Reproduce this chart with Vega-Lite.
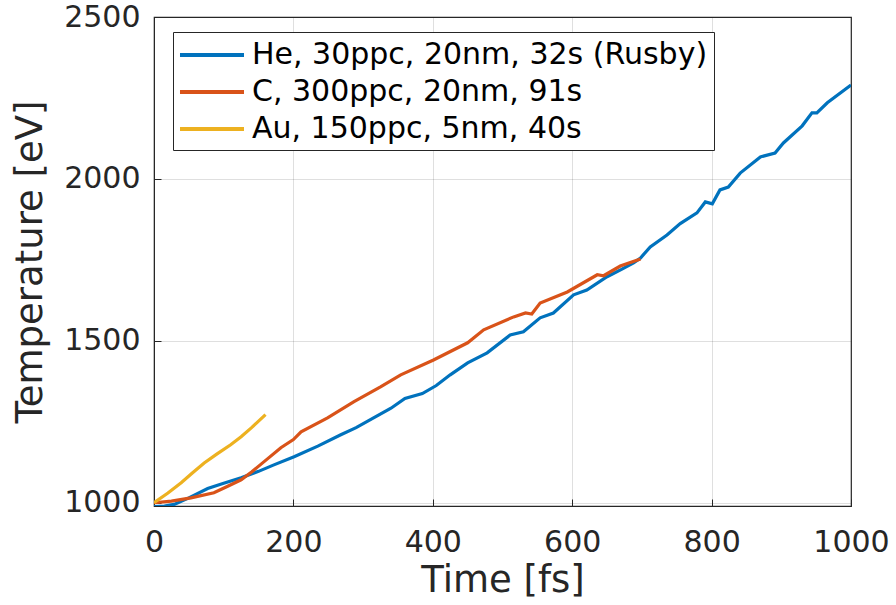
{
  "$schema": "https://vega.github.io/schema/vega-lite/v6.json",
  "width": 697,
  "height": 489,
  "padding": {"left": 154, "top": 17, "right": 45, "bottom": 99},
  "autosize": {"type": "none"},
  "background": "white",
  "config": {
    "font": "DejaVu Sans",
    "view": {"stroke": "#262626", "strokeWidth": 1.2},
    "axis": {
      "labelFont": "DejaVu Sans",
      "titleFont": "DejaVu Sans",
      "labelFontSize": 30,
      "titleFontSize": 37,
      "labelColor": "#262626",
      "titleColor": "#262626",
      "titleFontWeight": "normal",
      "domainColor": "#262626",
      "tickColor": "#262626",
      "gridColor": "#262626",
      "gridOpacity": 0.15,
      "gridWidth": 1
    }
  },
  "data": {"values": [
    {"s": "He, 30ppc, 20nm, 32s (Rusby)", "t": 0, "T": 988},
    {"s": "He, 30ppc, 20nm, 32s (Rusby)", "t": 15, "T": 990},
    {"s": "He, 30ppc, 20nm, 32s (Rusby)", "t": 29, "T": 995},
    {"s": "He, 30ppc, 20nm, 32s (Rusby)", "t": 50, "T": 1015},
    {"s": "He, 30ppc, 20nm, 32s (Rusby)", "t": 77, "T": 1044},
    {"s": "He, 30ppc, 20nm, 32s (Rusby)", "t": 100, "T": 1060},
    {"s": "He, 30ppc, 20nm, 32s (Rusby)", "t": 125, "T": 1077},
    {"s": "He, 30ppc, 20nm, 32s (Rusby)", "t": 150, "T": 1097},
    {"s": "He, 30ppc, 20nm, 32s (Rusby)", "t": 172, "T": 1117},
    {"s": "He, 30ppc, 20nm, 32s (Rusby)", "t": 201, "T": 1142},
    {"s": "He, 30ppc, 20nm, 32s (Rusby)", "t": 235, "T": 1175},
    {"s": "He, 30ppc, 20nm, 32s (Rusby)", "t": 268, "T": 1210},
    {"s": "He, 30ppc, 20nm, 32s (Rusby)", "t": 290, "T": 1232},
    {"s": "He, 30ppc, 20nm, 32s (Rusby)", "t": 315, "T": 1262},
    {"s": "He, 30ppc, 20nm, 32s (Rusby)", "t": 340, "T": 1292},
    {"s": "He, 30ppc, 20nm, 32s (Rusby)", "t": 360, "T": 1322},
    {"s": "He, 30ppc, 20nm, 32s (Rusby)", "t": 385, "T": 1337},
    {"s": "He, 30ppc, 20nm, 32s (Rusby)", "t": 405, "T": 1362},
    {"s": "He, 30ppc, 20nm, 32s (Rusby)", "t": 425, "T": 1395},
    {"s": "He, 30ppc, 20nm, 32s (Rusby)", "t": 450, "T": 1432},
    {"s": "He, 30ppc, 20nm, 32s (Rusby)", "t": 478, "T": 1463},
    {"s": "He, 30ppc, 20nm, 32s (Rusby)", "t": 511, "T": 1518},
    {"s": "He, 30ppc, 20nm, 32s (Rusby)", "t": 530, "T": 1528},
    {"s": "He, 30ppc, 20nm, 32s (Rusby)", "t": 554, "T": 1571},
    {"s": "He, 30ppc, 20nm, 32s (Rusby)", "t": 573, "T": 1586},
    {"s": "He, 30ppc, 20nm, 32s (Rusby)", "t": 602, "T": 1642},
    {"s": "He, 30ppc, 20nm, 32s (Rusby)", "t": 621, "T": 1657},
    {"s": "He, 30ppc, 20nm, 32s (Rusby)", "t": 650, "T": 1698},
    {"s": "He, 30ppc, 20nm, 32s (Rusby)", "t": 670, "T": 1720},
    {"s": "He, 30ppc, 20nm, 32s (Rusby)", "t": 688, "T": 1741},
    {"s": "He, 30ppc, 20nm, 32s (Rusby)", "t": 698, "T": 1756},
    {"s": "He, 30ppc, 20nm, 32s (Rusby)", "t": 712, "T": 1790},
    {"s": "He, 30ppc, 20nm, 32s (Rusby)", "t": 736, "T": 1827},
    {"s": "He, 30ppc, 20nm, 32s (Rusby)", "t": 755, "T": 1862},
    {"s": "He, 30ppc, 20nm, 32s (Rusby)", "t": 779, "T": 1895},
    {"s": "He, 30ppc, 20nm, 32s (Rusby)", "t": 791, "T": 1929},
    {"s": "He, 30ppc, 20nm, 32s (Rusby)", "t": 801, "T": 1923},
    {"s": "He, 30ppc, 20nm, 32s (Rusby)", "t": 812, "T": 1966},
    {"s": "He, 30ppc, 20nm, 32s (Rusby)", "t": 824, "T": 1975},
    {"s": "He, 30ppc, 20nm, 32s (Rusby)", "t": 841, "T": 2018},
    {"s": "He, 30ppc, 20nm, 32s (Rusby)", "t": 870, "T": 2068},
    {"s": "He, 30ppc, 20nm, 32s (Rusby)", "t": 891, "T": 2080},
    {"s": "He, 30ppc, 20nm, 32s (Rusby)", "t": 903, "T": 2111},
    {"s": "He, 30ppc, 20nm, 32s (Rusby)", "t": 930, "T": 2164},
    {"s": "He, 30ppc, 20nm, 32s (Rusby)", "t": 944, "T": 2204},
    {"s": "He, 30ppc, 20nm, 32s (Rusby)", "t": 951, "T": 2204},
    {"s": "He, 30ppc, 20nm, 32s (Rusby)", "t": 966, "T": 2235},
    {"s": "He, 30ppc, 20nm, 32s (Rusby)", "t": 1000, "T": 2290},
    {"s": "C, 300ppc, 20nm, 91s", "t": 0, "T": 1000},
    {"s": "C, 300ppc, 20nm, 91s", "t": 25, "T": 1005},
    {"s": "C, 300ppc, 20nm, 91s", "t": 53, "T": 1015},
    {"s": "C, 300ppc, 20nm, 91s", "t": 86, "T": 1031},
    {"s": "C, 300ppc, 20nm, 91s", "t": 105, "T": 1050},
    {"s": "C, 300ppc, 20nm, 91s", "t": 125, "T": 1071},
    {"s": "C, 300ppc, 20nm, 91s", "t": 140, "T": 1095},
    {"s": "C, 300ppc, 20nm, 91s", "t": 158, "T": 1127},
    {"s": "C, 300ppc, 20nm, 91s", "t": 182, "T": 1170},
    {"s": "C, 300ppc, 20nm, 91s", "t": 200, "T": 1195},
    {"s": "C, 300ppc, 20nm, 91s", "t": 211, "T": 1219},
    {"s": "C, 300ppc, 20nm, 91s", "t": 249, "T": 1262},
    {"s": "C, 300ppc, 20nm, 91s", "t": 287, "T": 1312},
    {"s": "C, 300ppc, 20nm, 91s", "t": 325, "T": 1358},
    {"s": "C, 300ppc, 20nm, 91s", "t": 354, "T": 1395},
    {"s": "C, 300ppc, 20nm, 91s", "t": 401, "T": 1441},
    {"s": "C, 300ppc, 20nm, 91s", "t": 450, "T": 1494},
    {"s": "C, 300ppc, 20nm, 91s", "t": 473, "T": 1534},
    {"s": "C, 300ppc, 20nm, 91s", "t": 516, "T": 1574},
    {"s": "C, 300ppc, 20nm, 91s", "t": 533, "T": 1586},
    {"s": "C, 300ppc, 20nm, 91s", "t": 542, "T": 1583},
    {"s": "C, 300ppc, 20nm, 91s", "t": 554, "T": 1617},
    {"s": "C, 300ppc, 20nm, 91s", "t": 593, "T": 1651},
    {"s": "C, 300ppc, 20nm, 91s", "t": 636, "T": 1704},
    {"s": "C, 300ppc, 20nm, 91s", "t": 645, "T": 1701},
    {"s": "C, 300ppc, 20nm, 91s", "t": 669, "T": 1731},
    {"s": "C, 300ppc, 20nm, 91s", "t": 698, "T": 1753},
    {"s": "Au, 150ppc, 5nm, 40s", "t": 0, "T": 1000},
    {"s": "Au, 150ppc, 5nm, 40s", "t": 20, "T": 1030},
    {"s": "Au, 150ppc, 5nm, 40s", "t": 39, "T": 1062},
    {"s": "Au, 150ppc, 5nm, 40s", "t": 55, "T": 1092},
    {"s": "Au, 150ppc, 5nm, 40s", "t": 72, "T": 1123},
    {"s": "Au, 150ppc, 5nm, 40s", "t": 90, "T": 1150},
    {"s": "Au, 150ppc, 5nm, 40s", "t": 110, "T": 1179},
    {"s": "Au, 150ppc, 5nm, 40s", "t": 125, "T": 1204},
    {"s": "Au, 150ppc, 5nm, 40s", "t": 140, "T": 1232},
    {"s": "Au, 150ppc, 5nm, 40s", "t": 160, "T": 1272}
  ]},
  "mark": {"type": "line", "strokeWidth": 3.2, "clip": true},
  "encoding": {
    "x": {
      "field": "t", "type": "quantitative",
      "scale": {"domain": [0, 1000], "nice": false, "zero": false},
      "axis": {"title": "Time [fs]", "format": "d", "values": [0, 200, 400, 600, 800, 1000], "tickSize": -7, "labelPadding": 28, "titlePadding": 5, "labelFlush": false, "labelOverlap": false}
    },
    "y": {
      "field": "T", "type": "quantitative",
      "scale": {"domain": [990, 2500], "nice": false, "zero": false},
      "axis": {"title": "Temperature [eV]", "format": "d", "values": [1000, 1500, 2000, 2500], "tickSize": -7, "labelPadding": 21, "titlePadding": 14, "labelFlush": false, "labelOverlap": false}
    },
    "color": {
      "field": "s", "type": "nominal",
      "sort": ["He, 30ppc, 20nm, 32s (Rusby)", "C, 300ppc, 20nm, 91s", "Au, 150ppc, 5nm, 40s"],
      "scale": {"domain": ["He, 30ppc, 20nm, 32s (Rusby)", "C, 300ppc, 20nm, 91s", "Au, 150ppc, 5nm, 40s"], "range": ["#0072BD", "#D95319", "#EDB120"]},
      "legend": {
        "title": null,
        "orient": "none",
        "legendX": 19,
        "legendY": 15,
        "symbolType": "M-1.067,0H3.2",
        "symbolSize": 900,
        "symbolStrokeWidth": 3.8,
        "labelFontSize": 30,
        "labelFont": "DejaVu Sans",
        "labelColor": "#000000",
        "labelLimit": 0,
        "labelOffset": 39,
        "rowPadding": 5,
        "padding": 6,
        "strokeColor": "#262626",
        "fillColor": "white"
      }
    }
  }
}
